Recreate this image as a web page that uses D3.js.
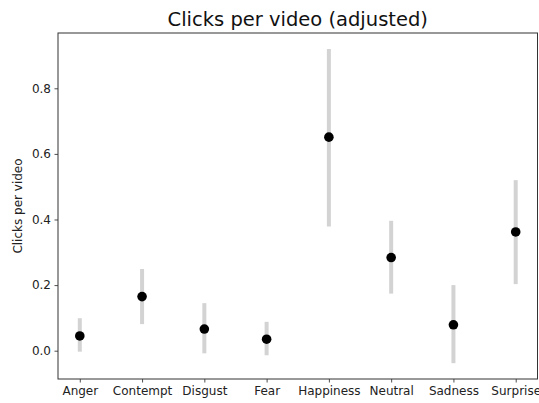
<!DOCTYPE html>
<html>
<head>
<meta charset="utf-8">
<script src="https://cdn.jsdelivr.net/npm/d3@7/dist/d3.min.js"></script>
<style>
  html, body { margin: 0; padding: 0; background: #fff; }
  svg { display: block; font-family: "DejaVu Sans", sans-serif; }
</style>
</head>
<body>
<svg id="chart" width="539" height="403"></svg>
<script>
// Emotion categories and their mean clicks per video with interval bounds
const emotions = ["Anger", "Contempt", "Disgust", "Fear", "Happiness", "Neutral", "Sadness", "Surprise"];
const means = [0.045, 0.165, 0.066, 0.035, 0.651, 0.284, 0.079, 0.362];
const lower = [-0.003, 0.081, -0.008, -0.014, 0.379, 0.174, -0.038, 0.203];
const upper = [0.099, 0.249, 0.145, 0.088, 0.920, 0.396, 0.200, 0.520];
const yTicks = [0.0, 0.2, 0.4, 0.6, 0.8];

const rows = emotions.map((e, i) => ({ emotion: e, idx: i, mean: means[i], lo: lower[i], hi: upper[i] }));

const svg = d3.select("#chart");
const margin = { left: 58, right: 1.5, top: 33, bottom: 24 };
const W = 539, H = 403;
const x0 = margin.left, x1 = W - margin.right;
const y0 = H - margin.bottom, y1 = margin.top;

// index scale with 5% padding on each side
const n = emotions.length;
const pad = (n - 1) * 0.05;
const x = d3.scaleLinear().domain([-pad, n - 1 + pad]).range([x0, x1]);
const y = d3.scaleLinear().domain([-0.0863, 0.9686]).range([y0, y1]);

// error bars
svg.append("g").selectAll("line").data(rows).join("line")
  .attr("x1", d => x(d.idx)).attr("x2", d => x(d.idx))
  .attr("y1", d => y(d.lo)).attr("y2", d => y(d.hi))
  .attr("stroke", "#d3d3d3").attr("stroke-width", 4);

// mean markers
svg.append("g").selectAll("circle").data(rows).join("circle")
  .attr("cx", d => x(d.idx)).attr("cy", d => y(d.mean))
  .attr("r", 4.8).attr("fill", "#000");

// axes
const xAxis = d3.axisBottom(x)
  .tickValues(d3.range(n))
  .tickFormat(i => emotions[i])
  .tickSize(3.5).tickPadding(3.5);
const yAxis = d3.axisLeft(y)
  .tickValues(yTicks)
  .tickFormat(d3.format(".1f"))
  .tickSize(3.5).tickPadding(3.5);

const gx = svg.append("g").attr("transform", `translate(0,${y0})`).call(xAxis);
const gy = svg.append("g").attr("transform", `translate(${x0},0)`).call(yAxis);
[gx, gy].forEach(g => {
  g.select(".domain").remove();
  g.selectAll(".tick line").attr("stroke", "#222").attr("stroke-width", 0.8);
  g.selectAll(".tick text").attr("fill", "#222").style("font-size", "12px")
    .style("font-family", "'DejaVu Sans', sans-serif");
});

// frame around the plot area
svg.append("rect")
  .attr("x", x0).attr("y", y1)
  .attr("width", x1 - x0).attr("height", y0 - y1)
  .attr("fill", "none").attr("stroke", "#333").attr("stroke-width", 1);

// title
svg.append("text")
  .attr("x", (x0 + x1) / 2).attr("y", 26)
  .attr("text-anchor", "middle")
  .style("font-size", "19.5px").attr("fill", "#111")
  .text("Clicks per video (adjusted)");

// y-axis label
svg.append("text")
  .attr("transform", `translate(22,${(y0 + y1) / 2}) rotate(-90)`)
  .attr("text-anchor", "middle")
  .style("font-size", "12px").attr("fill", "#222")
  .text("Clicks per video");
</script>
</body>
</html>
